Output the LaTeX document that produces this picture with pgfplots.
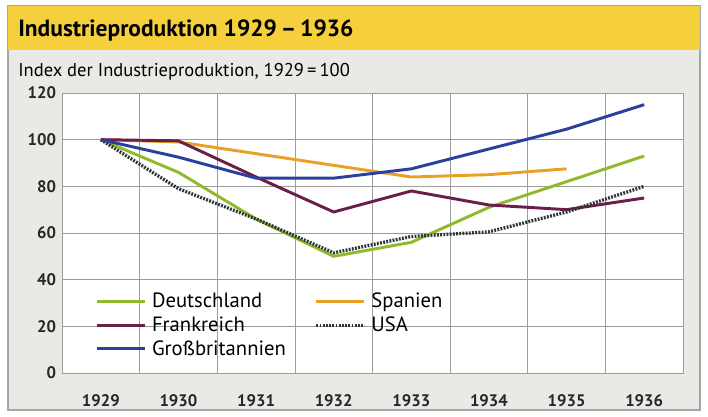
\documentclass[border=0pt]{standalone}
\usepackage{pgfplots}
\pgfplotsset{compat=1.18}
\usepackage{fontspec}
\setmainfont{PT Sans}
\definecolor{banner}{HTML}{F5CF3C}
\definecolor{panel}{HTML}{E9E9E6}
\definecolor{gridc}{HTML}{9C9C9C}
\definecolor{cde}{HTML}{8FBA2A}
\definecolor{cfr}{HTML}{6A1F48}
\definecolor{ces}{HTML}{E9A024}
\definecolor{cgb}{HTML}{2B3F9E}
\definecolor{cus}{HTML}{2C3836}
\begin{document}
\begin{tikzpicture}
\begin{scope}[x=0.75pt,y=0.75pt,shift={(-46.5pt,-33pt)}]
\fill[white] (0,0) rectangle (708,417);
\fill[panel] (8,7) rectangle (700,367);
\draw[gray!70,line width=0.8pt] (8,7) rectangle (700,411);
\fill[banner] (8,367) rectangle (700,411);
\node[anchor=base west,inner sep=0pt,font=\fontsize{17.6}{20}\selectfont\bfseries] at (18,380) {Industrieproduktion 1929\,–\,1936};
\node[anchor=base west,inner sep=0pt,font=\fontsize{13.9}{15}\selectfont] at (18,340) {Index der Industrieproduktion, 1929\,=\,100};
\end{scope}
\begin{axis}[
  at={(0pt,0pt)}, anchor=south west,
  scale only axis, width=465.75pt, height=210pt,
  xmin=-0.5, xmax=7.5, ymin=0, ymax=120,
  xtick={0,...,7}, xticklabels={1929,1930,1931,1932,1933,1934,1935,1936},
  minor xtick={0.5,1.5,...,6.5},
  ytick={0,20,...,120},
  yticklabels={\textbf{0},\textbf{20},\textbf{40},\textbf{60},\textbf{80},\textbf{100},\textbf{120}},
  xminorgrids=true, ymajorgrids=true, xmajorgrids=false,
  grid style={gridc, line width=0.5pt},
  minor grid style={gridc, line width=0.5pt},
  major tick length=0pt, minor tick length=0pt,
  axis line style={gridc, line width=0.6pt},
  axis background/.style={fill=white},
  tick label style={font=\fontsize{12.5}{14}\selectfont\bfseries, text=black!85},
  xticklabel style={yshift=-13pt},
  yticklabel style={xshift=-1pt},
  legend columns=2,
  legend cell align=left,
  legend image code/.code={\draw[#1] (0pt,0pt) -- (36pt,0pt);},
  legend style={at={(axis cs:-0.12,36)}, anchor=north west, draw=none, fill=none,
    font=\fontsize{15.5}{17}\selectfont, row sep=3.2pt,
    nodes={text width=118pt, align=left, inner xsep=4pt, inner ysep=1pt}},
  every axis plot/.append style={line width=2.2pt, line join=round},
]
\addplot[cde] coordinates {(0,100) (1,86) (2,66) (3,50) (4,56) (5,71) (6,82) (7,93)};
\addlegendentry{Deutschland}
\addplot[ces] coordinates {(0,100) (1,99) (2,94) (3,89) (4,84) (5,85) (6,87.5)};
\addlegendentry{Spanien}
\addplot[cfr] coordinates {(0,100) (1,99.5) (2,84) (3,69) (4,78) (5,72) (6,70) (7,75)};
\addlegendentry{Frankreich}
\addplot[cus, line width=2.5pt, dash pattern=on 1.4pt off 1.0pt] coordinates {(0,100) (1,79) (2,66) (3,51.5) (4,58.5) (5,60.5) (6,69) (7,80)};
\addlegendentry{USA}
\addplot[cgb] coordinates {(0,100) (1,92.5) (2,83.5) (3,83.5) (4,87.5) (5,96) (6,104.5) (7,115)};
\addlegendentry{Großbritannien}
\end{axis}
\end{tikzpicture}
\end{document}
